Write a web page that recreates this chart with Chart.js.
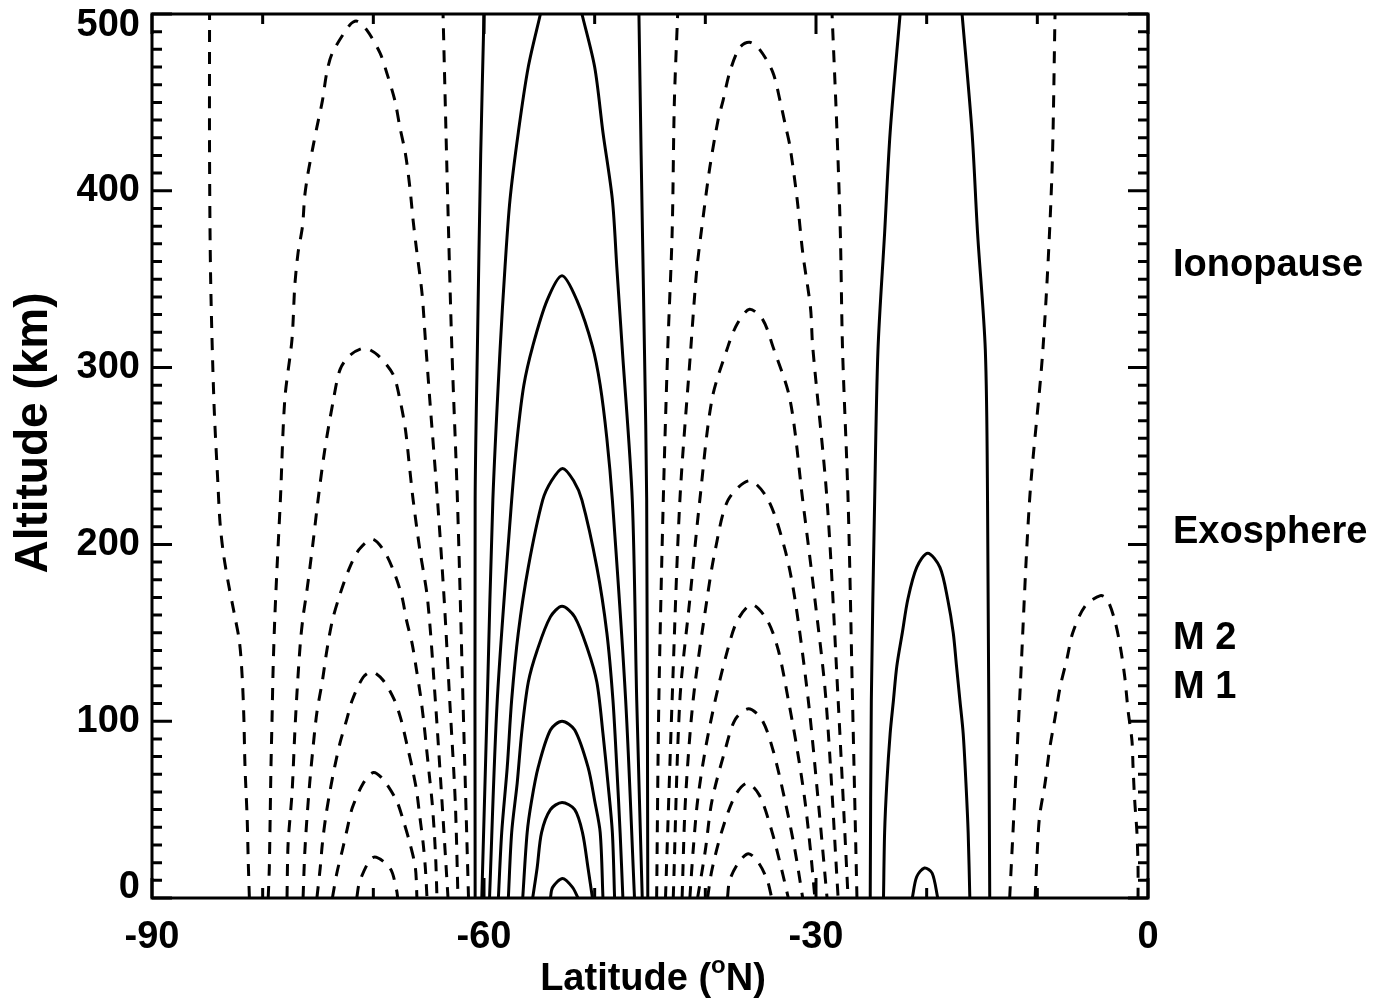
<!DOCTYPE html>
<html>
<head>
<meta charset="utf-8">
<script src="https://cdn.jsdelivr.net/npm/chart.js@4.4.1/dist/chart.umd.min.js"></script>
<style>
  html, body { margin: 0; padding: 0; background: #ffffff; }
  canvas { display: block; }
</style>
</head>
<body>
<canvas id="fieldChart" width="1381" height="1003"></canvas>
<script>
// axis ticks and labels
const latTicks = [-90, -60, -30, 0];
const latMinor = [-80, -70, -50, -40, -20, -10];
const altTicks = [0, 100, 200, 300, 400, 500];
const layerNames = ['Ionopause', 'Exosphere', 'M 2', 'M 1'];
const layerAlts = [358, 207, 147, 119];

// contour lines, each a list of [latitude, altitude]
// dashed family around -71 N
const dashedA = [
  [[-81.2,0],[-81.3,20],[-81.4,45],[-81.6,75],[-81.7,102],[-81.85,125],[-82.1,145],[-82.6,162],[-83.1,178],[-83.55,195],[-83.85,212],[-84.05,235],[-84.4,280],[-84.7,350],[-84.8,420],[-84.8,500]],
  [[-61.4,0],[-61.9,112],[-62.4,225],[-62.9,310],[-63.3,400],[-63.7,500]],
  [[-79.5,0],[-79.4,17],[-79.25,74],[-79.15,102],[-79.05,131],[-78.9,159],[-78.7,187],[-78.4,225],[-78.0,282],[-77.35,316],[-77.1,346],[-76.8,365],[-76.4,380],[-76.2,397],[-75.9,410],[-75.45,425],[-75.1,436],[-74.6,451],[-74.2,467],[-73.7,478],[-72.1,494],[-71.5,496],[-70.6,491],[-69.4,478],[-68.8,467],[-68.05,451],[-67.6,436],[-67.1,421],[-66.7,402],[-66.4,383],[-66.1,367],[-65.6,342],[-65.3,316],[-64.9,282],[-64.2,225],[-63.6,169],[-63.1,112],[-62.6,55],[-62.35,0]],
  [[-77.8,0],[-77.7,31],[-77.35,59],[-77.1,93],[-76.9,116],[-76.6,144],[-76.35,159],[-76.0,174],[-75.45,201],[-75.0,225],[-74.4,253],[-73.6,282],[-73.0,299],[-72.1,307],[-70.8,311],[-69.6,307],[-68.2,296],[-67.6,282],[-67.1,265],[-66.7,242],[-66.4,225],[-65.8,197],[-65.1,169],[-64.4,112],[-63.8,55],[-63.25,0]],
  [[-76.35,0],[-76.2,25],[-76.0,45],[-75.75,65],[-75.45,85],[-75.1,105],[-74.6,123],[-74.2,140],[-73.7,157],[-73.0,172],[-72.2,186],[-71.3,197],[-70.1,203],[-69.0,196],[-68.05,183],[-67.4,170],[-67.0,157],[-66.5,144],[-66.1,129],[-65.75,115],[-65.45,100],[-65.2,85],[-64.95,70],[-64.7,55],[-64.5,38],[-64.35,20],[-64.25,0]],
  [[-75.1,0],[-74.8,17],[-74.6,31],[-74.3,46],[-73.9,61],[-73.5,74],[-73.0,88],[-72.4,101],[-71.9,112],[-70.9,125],[-70.1,128],[-69.1,123],[-68.1,112],[-67.5,101],[-66.9,85],[-66.5,74],[-66.1,61],[-65.8,46],[-65.5,31],[-65.3,17],[-65.15,0]],
  [[-73.7,0],[-73.3,14],[-72.8,27],[-72.4,38],[-71.9,51],[-70.9,65],[-70.0,71],[-69.1,67],[-67.9,55],[-67.3,44],[-66.7,31],[-66.2,17],[-66.06,0]],
  [[-71.5,0],[-71.2,10],[-70.0,23],[-68.5,17],[-67.9,4.5],[-67.8,0]]
];

// solid family around -53 N
const solidB = [
  [[-60.8,0],[-60.8,225],[-60.6,310],[-60.3,420],[-60.0,500]],
  [[-45.2,0],[-45.3,225],[-45.5,310],[-45.8,420],[-46.0,500]],
  [[-60.2,0],[-59.7,112],[-59.2,225],[-58.55,310],[-58.1,357],[-57.65,395],[-56.9,433],[-56.0,470],[-54.9,500]],
  [[-51.15,500],[-50.0,470],[-49.25,433],[-48.4,395],[-48.0,357],[-47.5,310],[-46.6,225],[-46.2,112],[-45.7,0]],
  [[-59.5,0],[-58.8,112],[-57.5,225],[-57.0,260],[-56.4,290],[-55.6,312],[-54.3,338],[-52.95,352],[-51.6,338],[-50.2,312],[-49.5,290],[-48.9,260],[-48.4,225],[-47.2,112],[-46.4,0]],
  [[-58.7,0],[-58.4,37],[-57.9,74],[-57.5,112],[-56.9,150],[-56.0,187],[-54.7,225],[-53.9,236],[-52.9,243],[-51.9,236],[-51.15,225],[-49.8,187],[-48.9,150],[-48.35,112],[-48.0,74],[-47.7,37],[-47.45,0]],
  [[-57.8,0],[-57.5,37],[-57.0,65],[-56.6,93],[-56.0,122],[-55.2,140],[-54.0,159],[-52.95,165],[-51.8,159],[-50.6,140],[-49.8,122],[-49.25,93],[-48.8,65],[-48.4,37],[-48.2,0]],
  [[-56.5,0],[-56.1,37],[-55.7,55],[-55.1,74],[-54.0,95],[-52.95,100],[-51.8,95],[-50.6,74],[-50.0,55],[-49.5,37],[-49.25,0]],
  [[-55.6,0],[-55.2,17],[-54.8,37],[-54.0,50],[-52.95,54],[-51.8,50],[-51.1,37],[-50.6,17],[-50.2,0]],
  [[-54.0,0],[-53.8,6],[-52.9,11],[-52.0,6],[-51.5,0]]
];

// dashed family around -36 N
const dashedC = [
  [[-44.4,0],[-44.2,112],[-43.8,225],[-43.4,310],[-43.0,376],[-42.8,450],[-42.5,500]],
  [[-26.3,0],[-26.7,112],[-27.1,225],[-27.6,310],[-27.8,376],[-28.1,433],[-28.55,500]],
  [[-43.6,0],[-43.0,112],[-42.3,225],[-41.3,312],[-41.0,338],[-40.75,357],[-40.2,385],[-39.6,413],[-38.85,440],[-38.4,451],[-37.8,467],[-36.9,481],[-36.0,484],[-35.1,480],[-33.9,467],[-33.25,451],[-32.8,438],[-32.35,425],[-31.7,395],[-31.2,365],[-30.5,334],[-30.3,312],[-29.0,225],[-28.0,112],[-27.1,0]],
  [[-42.9,0],[-42.3,112],[-41.4,169],[-40.5,225],[-39.4,282],[-37.95,312],[-37.1,325],[-36.0,333],[-34.8,327],[-33.9,312],[-32.35,282],[-31.2,225],[-30.1,169],[-29.1,112],[-28.0,0]],
  [[-42.1,0],[-41.8,55],[-41.1,112],[-39.85,169],[-39.1,197],[-37.95,225],[-36.0,236],[-34.3,225],[-32.8,197],[-31.9,169],[-30.7,112],[-29.8,55],[-29.0,0]],
  [[-41.4,0],[-41.1,27],[-40.7,55],[-40.0,84],[-39.1,112],[-38.0,140],[-37.1,157],[-35.8,166],[-34.4,157],[-33.4,140],[-32.5,112],[-31.7,84],[-31.0,55],[-30.5,27],[-30.1,0]],
  [[-40.7,0],[-40.0,27],[-39.4,55],[-38.2,84],[-37.3,101],[-36.1,107],[-34.9,101],[-33.9,84],[-32.8,55],[-31.9,27],[-31.2,0]],
  [[-39.8,0],[-39.4,16],[-38.5,38],[-37.3,58],[-36.2,65],[-35.1,58],[-34.0,38],[-33.1,16],[-32.5,0]],
  [[-38.0,0],[-37.8,10],[-37.0,20],[-36.1,25],[-35.2,20],[-34.4,10],[-34.0,0]]
];

// solid family around -20 N
const solidD = [
  [[-25.1,0],[-25.0,112],[-24.7,225],[-24.4,310],[-23.8,376],[-23.3,433],[-22.4,500]],
  [[-14.3,0],[-14.5,225],[-14.7,310],[-15.4,376],[-15.9,433],[-16.8,500]],
  [[-23.9,0],[-23.8,37],[-23.6,65],[-23.3,93],[-23.0,112],[-22.7,131],[-22.2,150],[-21.7,169],[-20.9,187],[-19.9,195],[-18.8,187],[-18.1,169],[-17.6,150],[-17.3,131],[-17.0,112],[-16.7,93],[-16.45,65],[-16.25,37],[-16.1,0]],
  [[-21.3,0],[-20.9,12],[-20.2,17],[-19.5,14],[-19.0,0]]
];

// dashed family near the equator
const dashedE = [
  [[-12.5,0],[-11.6,112],[-10.7,225],[-9.5,310],[-8.7,406],[-8.4,500]],
  [[-10.2,0],[-10.0,27],[-9.8,46],[-9.3,65],[-8.9,84],[-8.4,102],[-7.95,119],[-7.3,136],[-6.8,150],[-5.7,165],[-4.3,171],[-3.7,169],[-3.0,157],[-2.5,142],[-2.1,125],[-1.8,106],[-1.45,89],[-1.35,74],[-1.2,55],[-1.0,37],[-0.9,17],[-0.9,0]]
];

const FONT = '"Liberation Sans", Arial, Helvetica, sans-serif';

function makeSet(line, dashed) {
  return {
    data: line.map(p => ({ x: p[0], y: p[1] })),
    showLine: true,
    borderColor: '#000000',
    borderWidth: 3,
    borderDash: dashed ? [12, 10] : [],
    pointRadius: 0,
    tension: 0.3,
    fill: false
  };
}

const datasets = [];
dashedA.forEach(l => datasets.push(makeSet(l, true)));
solidB.forEach(l => datasets.push(makeSet(l, false)));
dashedC.forEach(l => datasets.push(makeSet(l, true)));
solidD.forEach(l => datasets.push(makeSet(l, false)));
dashedE.forEach(l => datasets.push(makeSet(l, true)));

/**
 * Frame, inward ticks, labels and titles in the IDL style
 */
const framePlugin = {
  id: 'frame',
  afterDraw(chart) {
    const ctx = chart.ctx;
    const xs = chart.scales.x, ys = chart.scales.y;
    const a = chart.chartArea;
    ctx.save();
    ctx.strokeStyle = '#000';
    ctx.fillStyle = '#000';

    // minor + major ticks, pointing inwards on all four sides
    ctx.lineWidth = 3;
    ctx.beginPath();
    for (let v = 0; v <= 500; v += 10) {
      const py = ys.getPixelForValue(v);
      const len = altTicks.includes(v) ? 20 : 10;
      ctx.moveTo(a.left, py); ctx.lineTo(a.left + len, py);
      ctx.moveTo(a.right, py); ctx.lineTo(a.right - len, py);
    }
    latTicks.concat(latMinor).forEach(v => {
      const px = xs.getPixelForValue(v);
      const len = latTicks.includes(v) ? 20 : 10;
      ctx.moveTo(px, a.bottom); ctx.lineTo(px, a.bottom - len);
      ctx.moveTo(px, a.top); ctx.lineTo(px, a.top + len);
    });
    ctx.stroke();

    ctx.lineWidth = 3;
    ctx.strokeRect(a.left, a.top, a.right - a.left, a.bottom - a.top);

    // tick labels
    ctx.font = 'bold 38px ' + FONT;
    ctx.textAlign = 'right';
    altTicks.forEach((v, i) => {
      let py = ys.getPixelForValue(v);
      if (i === 0) py -= 10;
      if (i === altTicks.length - 1) py += 12;
      ctx.textBaseline = 'middle';
      ctx.fillText(String(v), a.left - 12, py);
    });
    ctx.textAlign = 'center';
    latTicks.forEach(v => {
      ctx.fillText(String(v), xs.getPixelForValue(v), 938);
    });

    // layer names on the right
    ctx.textAlign = 'left';
    layerNames.forEach((name, i) => {
      ctx.fillText(name, a.right + 25, ys.getPixelForValue(layerAlts[i]));
    });

    // y title
    ctx.save();
    ctx.translate(34, 433);
    ctx.rotate(-Math.PI / 2);
    ctx.textAlign = 'center';
    ctx.font = 'bold 46px ' + FONT;
    ctx.fillText('Altitude (km)', 0, 0);
    ctx.restore();

    // x title with superscript o
    const p1 = 'Latitude (', sup = 'o', p2 = 'N)';
    ctx.font = 'bold 38px ' + FONT;
    const w1 = ctx.measureText(p1).width, w3 = ctx.measureText(p2).width;
    ctx.font = 'bold 24px ' + FONT;
    const w2 = ctx.measureText(sup).width;
    let x0 = 653 - (w1 + w2 + w3) / 2;
    ctx.textAlign = 'left';
    ctx.font = 'bold 38px ' + FONT;
    ctx.fillText(p1, x0, 980);
    ctx.font = 'bold 24px ' + FONT;
    ctx.fillText(sup, x0 + w1, 966);
    ctx.font = 'bold 38px ' + FONT;
    ctx.fillText(p2, x0 + w1 + w2, 980);

    ctx.restore();
  }
};

new Chart(document.getElementById('fieldChart'), {
  type: 'scatter',
  data: { datasets: datasets },
  options: {
    responsive: false,
    animation: false,
    layout: { padding: { left: 152, right: 233, top: 14, bottom: 105 } },
    scales: {
      x: { type: 'linear', min: -90, max: 0, display: false },
      y: { type: 'linear', min: 0, max: 500, display: false }
    },
    plugins: {
      legend: { display: false },
      tooltip: { enabled: false }
    }
  },
  plugins: [framePlugin]
});
</script>
</body>
</html>
